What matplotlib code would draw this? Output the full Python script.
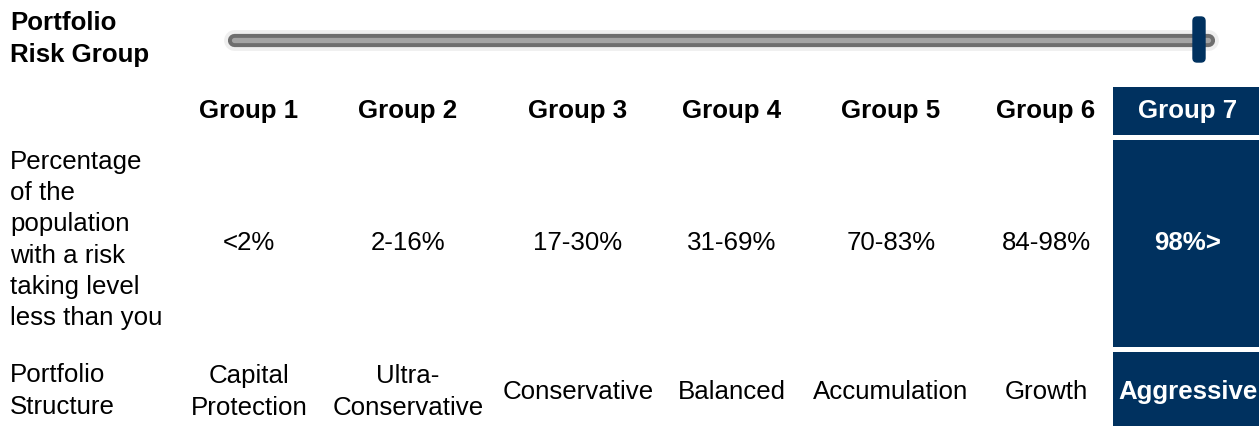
import matplotlib
matplotlib.use("Agg")
import matplotlib.pyplot as plt
from matplotlib.patches import Rectangle, FancyBboxPatch

# ---- table content ----
groups = ["Group 1", "Group 2", "Group 3", "Group 4", "Group 5", "Group 6", "Group 7"]
percentiles = ["<2%", "2-16%", "17-30%", "31-69%", "70-83%", "84-98%", "98%>"]
structures = ["Capital\nProtection", "Ultra-\nConservative", "Conservative", "Balanced",
              "Accumulation", "Growth", "Aggressive"]
selected = 7          # the client's risk group (1-based)

title_lbl = "Portfolio\nRisk Group"
pct_lbl = "Percentage\nof the\npopulation\nwith a risk\ntaking level\nless than you"
struct_lbl = "Portfolio\nStructure"

# ---- layout (pixel coords, origin top-left) ----
W, H = 1259, 426
col_x = [249, 408, 578, 732, 891, 1046, 1188]
box_x0, box_x1 = 1113, W
row_hdr, row_pct, row_str = (87, 135), (140, 347), (352, H)
navy = "#00315f"
FS = 18.6
FONT = ["Liberation Sans", "DejaVu Sans"]
LS = 1.37

fig = plt.figure(figsize=(W / 100, H / 100), dpi=100, facecolor="white")
ax = fig.add_axes([0, 0, 1, 1])
ax.set_xlim(0, W); ax.set_ylim(H, 0); ax.axis("off")

# slider track
x0, x1, ys = 234, 1208, 40
ax.plot([x0, x1], [ys, ys], color="#efefef", lw=15, solid_capstyle="round", zorder=1)
ax.plot([x0, x1], [ys, ys], color="#6e6e6e", lw=9.5, solid_capstyle="round", zorder=2)
ax.plot([x0, x1], [ys, ys], color="#a4a4a4", lw=3.8, solid_capstyle="round", zorder=3)
# handle position follows the selected group along the track
hx = x0 + (x1 - x0 - 9) * (selected - 1) / (len(groups) - 1)
ax.add_patch(FancyBboxPatch((hx - 4, 19), 8, 41, boxstyle="round,pad=2,rounding_size=4",
                            fc=navy, ec=navy, zorder=4))

# highlighted column for the selected group
si = selected - 1
for (r0, r1) in (row_hdr, row_pct, row_str):
    ax.add_patch(Rectangle((box_x0, r0), box_x1 - box_x0, r1 - r0, fc=navy, ec="none", zorder=1))

ax.text(10, 39, title_lbl, fontsize=FS, fontweight="bold", family=FONT,
        va="center", ha="left", linespacing=1.4)
ax.text(10, 240, pct_lbl, fontsize=FS, family=FONT, va="center", ha="left", linespacing=LS)
ax.text(10, 391, struct_lbl, fontsize=FS, family=FONT, va="center", ha="left", linespacing=LS)

for i, (g, p, s) in enumerate(zip(groups, percentiles, structures)):
    sel = i == si
    c = "white" if sel else "black"
    ax.text(col_x[i], 111, g, fontsize=FS, fontweight="bold", family=FONT,
            color=c, ha="center", va="center", zorder=5)
    ax.text(col_x[i], 243, p, fontsize=FS, fontweight="bold" if sel else "normal",
            family=FONT, color=c, ha="center", va="center", zorder=5)
    ax.text(col_x[i], 392, s, fontsize=FS, fontweight="bold" if sel else "normal",
            family=FONT, color=c, ha="center", va="center", linespacing=LS, zorder=5)

fig.savefig("out.png", dpi=100, facecolor="white")
